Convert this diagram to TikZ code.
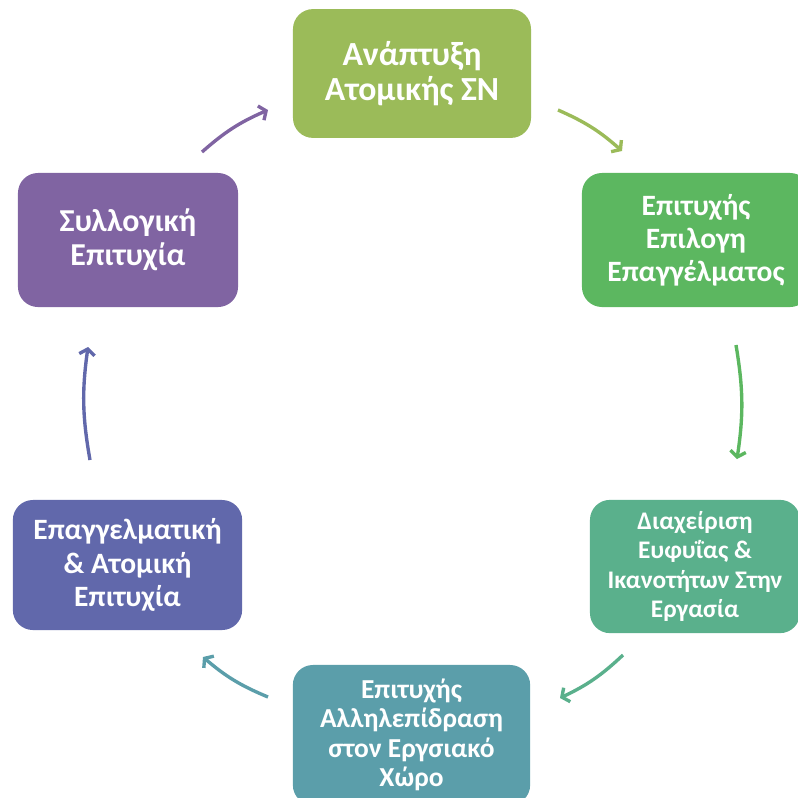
\documentclass[tikz,border=0pt]{standalone}
\usepackage{fontspec}
\setmainfont{Carlito}
\usetikzlibrary{arrows.meta,positioning}
\definecolor{cyolive}{RGB}{155,187,89}
\definecolor{cygreen}{RGB}{92,183,96}
\definecolor{cyteal}{RGB}{90,176,140}
\definecolor{cyblue}{RGB}{91,158,170}
\definecolor{cyindigo}{RGB}{97,104,171}
\definecolor{cypurple}{RGB}{128,100,162}
\tikzstyle{cyclebox} = [rectangle, rounded corners=0.5cm, align=center, text=white, inner sep=2pt]
\tikzstyle{cyclearrow} = [line width=2.4pt, -{Straight Barb[length=4pt,width=11pt]}, bend left=9]

\begin{document}
\begin{tikzpicture}[x=0.025cm, y=-0.025cm]
\useasboundingbox (0,0) rectangle (798,798);

% Step 1: individual development
\node (anr) [cyclebox, fill=cyolive, minimum width=5.95cm, minimum height=3.22cm,
  font=\bfseries\fontsize{24}{25}\selectfont] at (412,73.5) {Ανάπτυξη\\Ατομικής ΣΝ};

% Step 2: choice of profession
\node (epil) [cyclebox, fill=cygreen, minimum width=5.7cm, minimum height=3.35cm,
  font=\bfseries\fontsize{21}{23.5}\selectfont] at (696,240)
  {Επιτυχής\\Επιλογη\\Επαγγέλματος};

% Step 3: giftedness at work
\node (diax) [cyclebox, fill=cyteal, minimum width=5.25cm, minimum height=3.33cm,
  font=\bfseries\fontsize{18}{21}\selectfont] at (695,566.5)
  {Διαχείριση\\Ευφυΐας \&\\Ικανοτήτων Στην\\Εργασία};

% Step 4: interaction at work
\node (allil) [cyclebox, fill=cyblue, minimum width=5.93cm, minimum height=3.5cm,
  font=\bfseries\fontsize{19.5}{21}\selectfont] at (411.5,735)
  {Επιτυχής\\Αλληλεπίδραση\\στον Εργσιακό\\Χώρο};

% Step 5: professional success
\node (epag) [cyclebox, fill=cyindigo, minimum width=5.73cm, minimum height=3.25cm,
  font=\bfseries\fontsize{21}{24}\selectfont] at (127.5,565)
  {Επαγγελματική\\\& Ατομική\\Επιτυχία};

% Step 6: collective success
\node (syl) [cyclebox, fill=cypurple, minimum width=5.5cm, minimum height=3.35cm,
  font=\bfseries\fontsize{22.7}{24}\selectfont] at (128,240)
  {Συλλογική\\Επιτυχία};

% arrow ends
\coordinate (syl-out) at (202,152);
\coordinate (anr-in) at (268,110);
\coordinate (anr-out) at (558,110);
\coordinate (epil-in) at (622,151);
\coordinate (epil-out) at (736,345);
\coordinate (diax-in) at (737,459);
\coordinate (diax-out) at (623,655);
\coordinate (allil-in) at (560,698);
\coordinate (allil-out) at (268,697);
\coordinate (epag-in) at (203,657);
\coordinate (epag-out) at (90,460);
\coordinate (syl-in) at (88,347);

\draw [cyclearrow, cypurple] (syl-out) to (anr-in);
\draw [cyclearrow, cyolive] (anr-out) to (epil-in);
\draw [cyclearrow, cygreen] (epil-out) to (diax-in);
\draw [cyclearrow, cyteal] (diax-out) to (allil-in);
\draw [cyclearrow, cyblue] (allil-out) to (epag-in);
\draw [cyclearrow, cyindigo] (epag-out) to (syl-in);

\end{tikzpicture}
\end{document}
